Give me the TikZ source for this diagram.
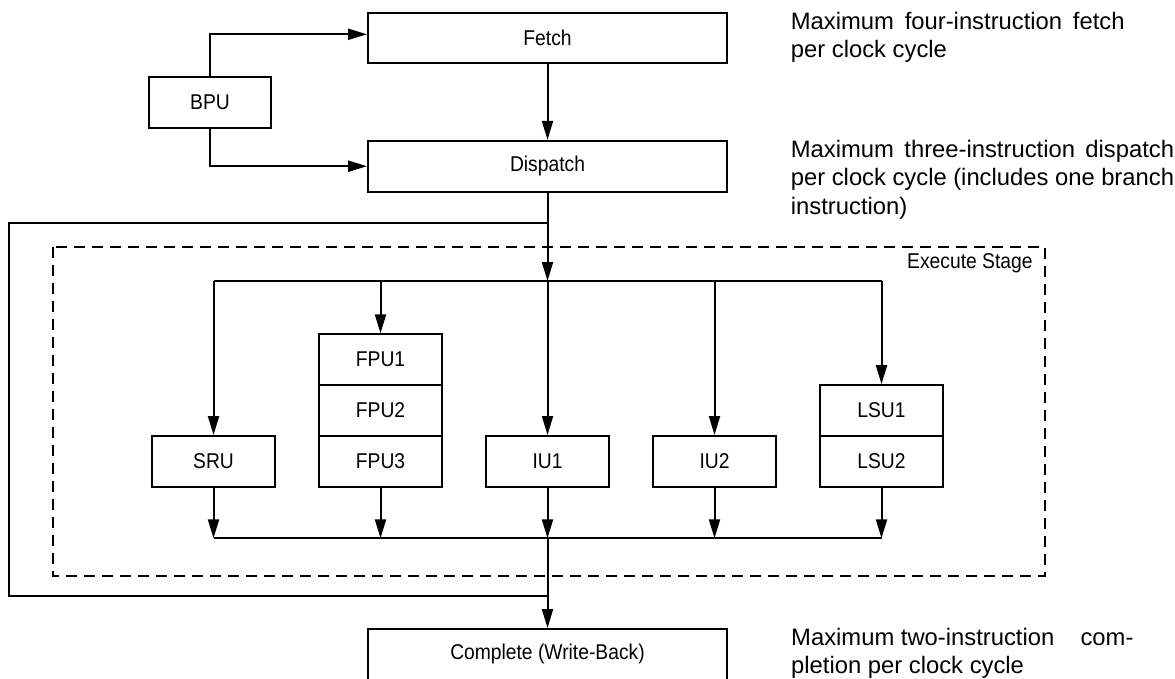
\documentclass[tikz,border=0pt]{standalone}
\usepackage{fontspec}
\setmainfont{Liberation Sans}
\newfontfamily\boxfont[FakeStretch=0.9]{Liberation Sans}
\usetikzlibrary{arrows.meta}
\begin{document}
\begin{tikzpicture}[x=1pt,y=-1pt,
  line join=miter,
  box/.style={draw, line width=2pt, minimum width=122.5pt, minimum height=50.7pt, inner sep=0pt, font=\boxfont\fontsize{21.4}{25}\selectfont},
  wide/.style={box, minimum width=359pt},
  arr/.style={line width=2pt, -{Triangle[length=19pt,width=11pt]}},
  ln/.style={line width=2pt},
  dashbox/.style={line width=2pt, dash pattern=on 11pt off 7pt},
  note/.style={anchor=base west, inner sep=0pt, font=\fontsize{23.8}{28.3}\selectfont},
  lbl/.style={inner sep=0pt, font=\boxfont\fontsize{21.4}{25}\selectfont}]
\useasboundingbox (0,0) rectangle (1175,679);

% main pipeline boxes
\node[wide] (fetch) at (547.5,38) {Fetch};
\node[box]  (bpu)   at (210,102.7) {BPU};
\node[wide] (disp)  at (547.5,166.2) {Dispatch};
\node[wide] (comp)  at (547.5,654.4) {Complete (Write-Back)};

% execute stage
\draw[dashbox] (53.3,246.7) rectangle (1045.3,575.7);
\node[lbl, anchor=east] (exlbl) at (1032.7,263.3) {Execute Stage};

\node[box] (sru)  at (213.5,461.35) {SRU};
\node[box] (fpu1) at (380.5,359.65) {FPU1};
\node[box] (fpu2) at (380.5,410.5)  {FPU2};
\node[box] (fpu3) at (380.5,461.35) {FPU3};
\node[box] (iu1)  at (547.5,461.35) {IU1};
\node[box] (iu2)  at (714.5,461.35) {IU2};
\node[box] (lsu1) at (881.5,410.5)  {LSU1};
\node[box] (lsu2) at (881.5,461.35) {LSU2};

% coordinates
\coordinate (sp)  at (547.5,281);
\coordinate (spL) at (213.5,281);
\coordinate (spR) at (881.5,281);
\coordinate (mg)  at (547.5,538.3);
\coordinate (mgL) at (213.5,538.3);
\coordinate (mgR) at (881.5,538.3);
\coordinate (lpA) at (547.5,222.7);
\coordinate (lpB) at (9,222.7);
\coordinate (lpC) at (9,595.7);
\coordinate (lpD) at (547.5,595.7);

% connectors
\draw[arr] (bpu.north) |- ([yshift=3.7pt]fetch.west);
\draw[arr] (bpu.south) |- (disp.west);
\draw[arr] (fetch) -- (disp);
\draw[arr] (disp.south) -- (sp);
\draw[ln] (lpA) -- (lpB) -- (lpC) -- (lpD);
\draw[ln] (spL) -- (spR);
\draw[arr] (spL) -- (sru.north);
\draw[arr] (sp -| fpu1) -- (fpu1.north);
\draw[arr] (sp) -- (iu1.north);
\draw[arr] (sp -| iu2) -- (iu2.north);
\draw[arr] (spR) -- (lsu1.north);
\draw[ln] (mgL) -- (mgR);
\draw[arr] (sru.south) -- (mgL);
\draw[arr] (fpu3.south) -- (mg -| fpu3);
\draw[arr] (iu1.south) -- (mg);
\draw[arr] (iu2.south) -- (mg -| iu2);
\draw[arr] (lsu2.south) -- (mgR);
\draw[arr] (mg) -- (comp.north);

% notes
\node[note] (n1) at (790.7,29.3) {\vtop{\hbox{\makebox[333.7pt][s]{Maximum four-instruction fetch}}\hbox{per clock cycle}}};
\node[note] (n2) at (790.7,157.6) {\vtop{\hbox{\makebox[383.2pt][s]{Maximum three-instruction dispatch}}\hbox{\makebox[383.2pt][s]{per clock cycle (includes one branch}}\hbox{instruction)}}};
\node[note] (n3) at (791.0,645.6) {\vtop{\hbox{\makebox[342.3pt][s]{Maximum two-instruction\hfill com-}}\hbox{pletion per clock cycle}}};
\end{tikzpicture}
\end{document}
